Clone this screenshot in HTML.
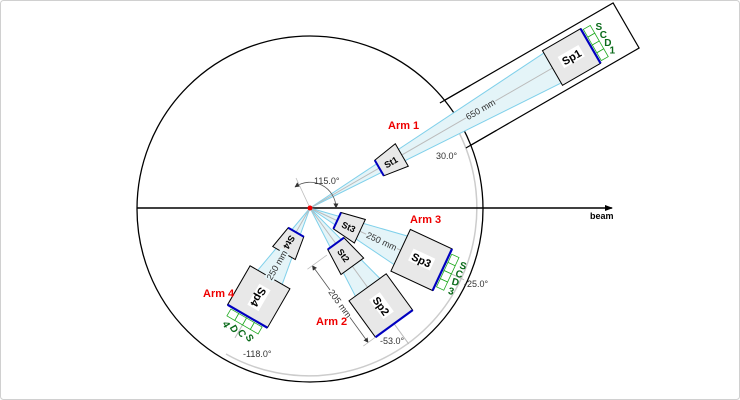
<!DOCTYPE html>
<html><head><meta charset="utf-8"><style>
html,body{margin:0;padding:0;background:#fff;}
svg{display:block;font-family:"Liberation Sans",Arial,sans-serif;}
</style></head><body>
<svg width="740" height="400" viewBox="0 0 740 400" xmlns="http://www.w3.org/2000/svg">
<rect x="0.5" y="0.5" width="739" height="399" rx="3" fill="#fff" stroke="#d0d0d0"/>
<defs>
<marker id="ar" markerWidth="8" markerHeight="8" refX="7" refY="4" orient="auto" markerUnits="userSpaceOnUse"><path d="M0,1 L8,4 L0,7z" fill="#000"/></marker>
<marker id="sa" markerWidth="5" markerHeight="5" refX="4.5" refY="2.5" orient="auto-start-reverse" markerUnits="userSpaceOnUse"><path d="M0,0 L5,2.5 L0,5z" fill="#333"/></marker>
</defs>

<g transform="translate(310,208) rotate(-30)">
<rect x="165" y="-26" width="200" height="52" fill="#fff" stroke="#000" stroke-width="1.2"/>
</g>
<circle cx="310" cy="209" r="173" fill="#fff" stroke="#000" stroke-width="1.3"/>
<path d="M455,125 A168,168 0 0 1 226,354" fill="none" stroke="#ccc" stroke-width="1.5" transform="translate(0,0)"/>
<g transform="translate(310,208) rotate(-30)">
<line x1="165" y1="-26" x2="200" y2="-26" stroke="#000" stroke-width="1.2"/>
<line x1="165" y1="26" x2="200" y2="26" stroke="#000" stroke-width="1.2"/>
</g>

<line x1="137" y1="208" x2="612" y2="208" stroke="#000" stroke-width="1.5" marker-end="url(#ar)"/>
<text x="590" y="219" font-size="9" font-weight="bold">beam</text>

<!-- Arm 1 -->
<g transform="translate(310,208) rotate(-30)">
<path d="M0,0 L324,-20 L324,20z" fill="#e4f4f8"/>
<line x1="0" y1="0" x2="324" y2="-20" stroke="#7fd0ea" stroke-width="1"/>
<line x1="0" y1="0" x2="324" y2="20" stroke="#7fd0ea" stroke-width="1"/>
<line x1="0" y1="0" x2="330" y2="0" stroke="#bbb" stroke-width="1"/>
<path d="M80,-9 L106,-13 L106,13 L80,9z" fill="#e8e8e8" stroke="#000" stroke-width="1"/>
<line x1="80" y1="-9" x2="80" y2="9" stroke="#0000c0" stroke-width="2"/>
<text x="93" y="4" font-size="9" font-weight="bold" text-anchor="middle">St1</text>
<rect x="280" y="-20" width="44" height="40" fill="#e8e8e8" stroke="#000" stroke-width="1"/>
<line x1="324" y1="-20" x2="324" y2="20" stroke="#0000c0" stroke-width="2.2"/>
<rect x="290" y="-7" width="24" height="13" fill="#fff"/>
<text x="302" y="4" font-size="11" font-weight="bold" text-anchor="middle">Sp1</text>
<g fill="#fff" stroke="#2a2" stroke-width="0.8">
<rect x="326" y="-18" width="8" height="9"/><rect x="326" y="-9" width="8" height="9"/><rect x="326" y="0" width="8" height="9"/><rect x="326" y="9" width="8" height="9"/></g>
<g fill="#0a6a1a" font-size="10" font-weight="bold" text-anchor="middle">
<text transform="translate(341,-13) rotate(30)" y="4">S</text><text transform="translate(341,-4) rotate(30)" y="4">C</text><text transform="translate(341,5) rotate(30)" y="4">D</text><text transform="translate(341,14) rotate(30)" y="4">1</text></g>
<rect x="180" y="-5" width="34" height="10" fill="#e4f4f8"/>
<text x="197" y="3" font-size="9" text-anchor="middle" fill="#333">650 mm</text>
</g>
<text x="388" y="129" font-size="11" font-weight="bold" fill="#e00">Arm 1</text>
<text x="436" y="159" font-size="9" fill="#333">30.0°</text>

<path d="M295,187 A26,26 0 0 1 336,208" fill="none" stroke="#555" stroke-width="0.8" marker-start="url(#sa)" marker-end="url(#sa)"/>
<line x1="310" y1="208" x2="296" y2="178" stroke="#bbb" stroke-width="0.8"/>
<text x="314" y="184" font-size="9" fill="#333">115.0°</text>

<!-- Arm 3 -->
<g transform="translate(310,208) rotate(25)">
<path d="M0,0 L146,-23 L146,23z" fill="#e4f4f8"/>
<line x1="0" y1="0" x2="146" y2="-23" stroke="#7fd0ea"/>
<line x1="0" y1="0" x2="146" y2="23" stroke="#7fd0ea"/>
<line x1="0" y1="0" x2="170" y2="0" stroke="#bbb"/>
<path d="M30,-9 L55,-13 L55,13 L30,9z" fill="#e8e8e8" stroke="#000"/>
<line x1="30" y1="-9" x2="30" y2="9" stroke="#0000c0" stroke-width="2"/>
<text x="43" y="4" font-size="9" font-weight="bold" text-anchor="middle">St3</text>
<rect x="100" y="-23" width="46" height="46" fill="#e8e8e8" stroke="#000"/>
<line x1="146" y1="-23" x2="146" y2="23" stroke="#0000c0" stroke-width="2.2"/>
<rect x="111" y="-7" width="24" height="13" fill="#fff"/>
<text x="123" y="4" font-size="11" font-weight="bold" text-anchor="middle">Sp3</text>
<g fill="#fff" stroke="#2a2" stroke-width="0.8">
<rect x="148" y="-18" width="8" height="9"/><rect x="148" y="-9" width="8" height="9"/><rect x="148" y="0" width="8" height="9"/><rect x="148" y="9" width="8" height="9"/></g>
<g fill="#0a6a1a" font-size="10" font-weight="bold" text-anchor="middle">
<text transform="translate(163,-13) rotate(-10)" y="4">S</text><text transform="translate(163,-4) rotate(-10)" y="4">C</text><text transform="translate(163,5) rotate(-10)" y="4">D</text><text transform="translate(163,15) rotate(-10)" y="4">3</text></g>
<rect x="62" y="-5" width="34" height="10" fill="#e4f4f8"/>
<text x="79" y="3" font-size="9" text-anchor="middle" fill="#333">250 mm</text>
</g>
<text x="410" y="223" font-size="11" font-weight="bold" fill="#e00">Arm 3</text>
<text x="464" y="287" font-size="9" fill="#333">-25.0°</text>

<!-- Arm 2 -->
<g transform="translate(310,208) rotate(54)">
<path d="M0,0 L143,-22 L143,22z" fill="#e4f4f8"/>
<line x1="0" y1="0" x2="143" y2="-22" stroke="#7fd0ea"/>
<line x1="0" y1="0" x2="143" y2="22" stroke="#7fd0ea"/>
<line x1="0" y1="0" x2="168" y2="0" stroke="#bbb"/>
<path d="M44,-10 L72,-14 L72,14 L44,10z" fill="#e8e8e8" stroke="#000"/>
<line x1="44" y1="-10" x2="44" y2="10" stroke="#0000c0" stroke-width="2"/>
<text x="58" y="4" font-size="9" font-weight="bold" text-anchor="middle">St2</text>
<rect x="98" y="-23" width="45" height="46" fill="#e8e8e8" stroke="#000"/>
<line x1="143" y1="-23" x2="143" y2="23" stroke="#0000c0" stroke-width="2.2"/>
<rect x="109" y="-7" width="24" height="13" fill="#fff"/>
<text x="121" y="4" font-size="11" font-weight="bold" text-anchor="middle">Sp2</text>
<line x1="48" y1="32" x2="143" y2="32" stroke="#555" stroke-width="0.8" marker-start="url(#sa)" marker-end="url(#sa)"/>
<line x1="48" y1="14" x2="48" y2="38" stroke="#bbb" stroke-width="0.8"/>
<line x1="143" y1="23" x2="143" y2="38" stroke="#bbb" stroke-width="0.8"/>
<rect x="78" y="26" width="34" height="11" fill="#fff"/>
<text x="95" y="35" font-size="9" text-anchor="middle" fill="#333">205 mm</text>
</g>
<text x="316" y="325" font-size="11" font-weight="bold" fill="#e00">Arm 2</text>
<text x="380" y="344" font-size="9" fill="#333">-53.0°</text>

<!-- Arm 4 -->
<g transform="translate(310,208) rotate(120)">
<path d="M0,0 L125,-22 L125,22z" fill="#e4f4f8"/>
<line x1="0" y1="0" x2="125" y2="-22" stroke="#7fd0ea"/>
<line x1="0" y1="0" x2="125" y2="22" stroke="#7fd0ea"/>
<line x1="0" y1="0" x2="150" y2="0" stroke="#bbb"/>
<path d="M28,-9 L52,-13 L52,13 L28,9z" fill="#e8e8e8" stroke="#000"/>
<line x1="28" y1="-9" x2="28" y2="9" stroke="#0000c0" stroke-width="2"/>
<text x="40" y="4" font-size="9" font-weight="bold" text-anchor="middle">St4</text>
<rect x="80" y="-23" width="45" height="46" fill="#e8e8e8" stroke="#000"/>
<line x1="125" y1="-23" x2="125" y2="23" stroke="#0000c0" stroke-width="2.2"/>
<rect x="91" y="-7" width="24" height="13" fill="#fff"/>
<text x="103" y="4" font-size="11" font-weight="bold" text-anchor="middle">Sp4</text>
<g fill="#fff" stroke="#2a2" stroke-width="0.8">
<rect x="127" y="-18" width="8" height="9"/><rect x="127" y="-9" width="8" height="9"/><rect x="127" y="0" width="8" height="9"/><rect x="127" y="9" width="8" height="9"/></g>
<g fill="#0a6a1a" font-size="10" font-weight="bold" text-anchor="middle">
<text transform="translate(142,-13) rotate(-60)" y="4">S</text><text transform="translate(142,-4) rotate(-60)" y="4">C</text><text transform="translate(142,5) rotate(-60)" y="4">D</text><text transform="translate(142,14) rotate(-60)" y="4">4</text></g>
<g transform="translate(66,0) rotate(180)">
<rect x="-17" y="-5" width="34" height="10" fill="#e4f4f8"/>
<text x="0" y="3" font-size="9" text-anchor="middle" fill="#333">250 mm</text>
</g>
</g>
<text x="203" y="297" font-size="11" font-weight="bold" fill="#e00">Arm 4</text>
<text x="243" y="357" font-size="9" fill="#333">-118.0°</text>

<circle cx="310" cy="208" r="2.5" fill="#e00"/>
</svg>
</body></html>
